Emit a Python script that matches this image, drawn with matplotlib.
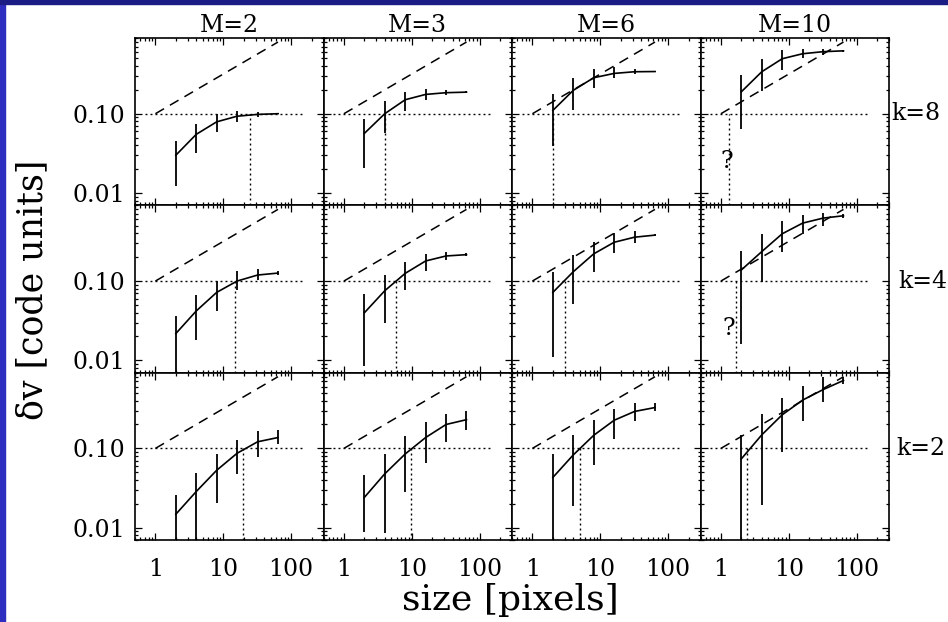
import matplotlib
matplotlib.use("Agg")
import matplotlib.pyplot as plt
from matplotlib.patches import Rectangle
from matplotlib.ticker import NullFormatter, LogLocator

plt.rcParams["font.family"] = ["DejaVu Serif", "DejaVu Sans"]

mach = ["M=2", "M=3", "M=6", "M=10"]
k_labels = ["k=8", "k=4", "k=2"]
sizes = [2, 4, 8, 16, 32, 64]

# reference slope-1/2 line and the 0.1 threshold line
ref_x = [1, 64]
ref_y = [0.1, 0.8]
thr_x = [0.7, 150]
thr_y = [0.1, 0.1]

# k=8 row: one list per Mach number (M=2, 3, 6, 10)
dv_k8 = [[0.030, 0.055, 0.079, 0.093, 0.098, 0.100],
         [0.0565, 0.100, 0.150, 0.175, 0.184, 0.187],
         [0.110, 0.197, 0.284, 0.322, 0.338, 0.340],
         [0.189, 0.338, 0.493, 0.570, 0.605, 0.620]]
lo_k8 = [[0.0122, 0.0316, 0.0587, 0.079, 0.092, 0.098],
         [0.0205, 0.0565, 0.108, 0.150, 0.171, 0.183],
         [0.0388, 0.110, 0.209, 0.279, 0.313, 0.333],
         [0.0647, 0.193, 0.359, 0.50, 0.55, 0.605]]
hi_k8 = [[0.045, 0.075, 0.100, 0.108, 0.106, 0.102],
         [0.087, 0.144, 0.189, 0.207, 0.199, 0.191],
         [0.175, 0.279, 0.362, 0.390, 0.365, 0.347],
         [0.307, 0.493, 0.628, 0.66, 0.65, 0.635]]
cross_k8 = [25, 4, 2, 1.32]

# k=4 row
dv_k4 = [[0.0218, 0.042, 0.072, 0.100, 0.119, 0.126],
         [0.0398, 0.0755, 0.125, 0.179, 0.207, 0.215],
         [0.072, 0.131, 0.220, 0.308, 0.357, 0.379],
         [0.138, 0.235, 0.394, 0.537, 0.621, 0.665]]
lo_k4 = [[0.005, 0.0183, 0.0425, 0.077, 0.103, 0.119],
         [0.0084, 0.030, 0.076, 0.135, 0.184, 0.205],
         [0.0109, 0.052, 0.130, 0.224, 0.300, 0.365],
         [0.0163, 0.096, 0.231, 0.39, 0.49, 0.62]]
hi_k4 = [[0.0364, 0.0665, 0.100, 0.132, 0.140, 0.132],
         [0.069, 0.119, 0.172, 0.220, 0.233, 0.226],
         [0.129, 0.213, 0.308, 0.409, 0.430, 0.393],
         [0.24, 0.394, 0.564, 0.68, 0.72, 0.71]]
cross_k4 = [15, 5.8, 3.0, 1.64]

# k=2 row
dv_k2 = [[0.0148, 0.0286, 0.053, 0.0868, 0.121, 0.137],
         [0.0241, 0.0478, 0.085, 0.137, 0.200, 0.230],
         [0.043, 0.0827, 0.146, 0.226, 0.292, 0.327],
         [0.0738, 0.148, 0.265, 0.406, 0.550, 0.718]]
lo_k2 = [[0.005, 0.005, 0.0206, 0.0469, 0.0774, 0.112],
         [0.0089, 0.0087, 0.0286, 0.0653, 0.119, 0.170],
         [0.005, 0.0187, 0.061, 0.133, 0.220, 0.298],
         [0.005, 0.0196, 0.089, 0.224, 0.387, 0.65]]
hi_k2 = [[0.026, 0.0496, 0.0843, 0.127, 0.165, 0.168],
         [0.046, 0.085, 0.143, 0.213, 0.273, 0.300],
         [0.085, 0.146, 0.230, 0.312, 0.370, 0.376],
         [0.146, 0.273, 0.426, 0.617, 0.79, 0.79]]
cross_k2 = [19.6, 9.7, 5.0, 2.4]

# "?" markers in the M=10 column (row index, x, y)
question = [(0, 1.21, 0.025), (1, 1.32, 0.025)]

rows = [(dv_k8, lo_k8, hi_k8, cross_k8),
        (dv_k4, lo_k4, hi_k4, cross_k4),
        (dv_k2, lo_k2, hi_k2, cross_k2)]
k_xoff = [1.01, 1.05, 1.037]

XLIM = (0.5, 300)
YLIM = (0.007, 0.9)

fig = plt.figure(figsize=(9.48, 6.22), dpi=100)
axes = fig.subplots(3, 4, sharex=True, sharey=True,
                    gridspec_kw=dict(wspace=0, hspace=0, left=135 / 948, right=889 / 948,
                                     top=1 - 38 / 622, bottom=1 - 540 / 622))

for r, (dv, lo, hi, cross) in enumerate(rows):
    for c in range(4):
        ax = axes[r, c]
        ax.set_xscale("log")
        ax.set_yscale("log")
        ax.plot(ref_x, ref_y, color="black", lw=1.1, dashes=(6.5, 4.5))
        ax.plot(thr_x, thr_y, color="black", lw=1.0, dashes=(1.4, 2.2))
        ax.plot([cross[c], cross[c]], [YLIM[0], 0.1], color="black", lw=1.0, dashes=(1.4, 2.2))
        yerr = [[v - l for v, l in zip(dv[c], lo[c])], [h - v for v, h in zip(dv[c], hi[c])]]
        ax.errorbar(sizes, dv[c], yerr=yerr, color="black", lw=1.2, elinewidth=1.3, capsize=0)
        ax.set_xlim(*XLIM)
        ax.set_ylim(*YLIM)
        ax.tick_params(which="both", direction="in", top=True, right=True,
                       labelsize=17, width=0.9)
        ax.tick_params(which="major", length=5)
        ax.tick_params(which="minor", length=2.5)
        ax.tick_params(axis="y", pad=7)
        ax.tick_params(axis="x", pad=13)
        ax.xaxis.set_minor_locator(LogLocator(subs=range(2, 10)))
        ax.yaxis.set_minor_locator(LogLocator(subs=range(2, 10)))
        ax.xaxis.set_minor_formatter(NullFormatter())
        ax.yaxis.set_minor_formatter(NullFormatter())
        for s in ax.spines.values():
            s.set_linewidth(1.2)
        if r == 0:
            ax.set_title(mach[c], fontsize=17, pad=4)
        if c == 3:
            ax.text(k_xoff[r], 0.1, k_labels[r], fontsize=17, va="center", ha="left",
                    transform=ax.get_yaxis_transform())

axes[0, 0].set_xticks([1, 10, 100], ["1", "10", "100"])
axes[0, 0].set_yticks([0.01, 0.1], ["0.01", "0.10"])
axes[0, 0].set_xlim(*XLIM)
axes[0, 0].set_ylim(*YLIM)

for r, qx, qy in question:
    axes[r, 3].text(qx, qy, "?", fontsize=17, ha="center", va="center")

fig.text(32 / 948, 1 - 290 / 622, "\u03b4v [code units]", rotation=90, fontsize=25,
         ha="center", va="center")
fig.text(510 / 948, 1 - 600 / 622, "size [pixels]", fontsize=26, ha="center", va="center")

# blue slide border
fig.patches.append(Rectangle((0, 0), 5 / 948, 1, transform=fig.transFigure,
                             color="#2d2dc0", zorder=-1))
fig.patches.append(Rectangle((0, 1 - 4 / 622), 1, 4 / 622, transform=fig.transFigure,
                             color="#1c1c85", zorder=-1))

fig.savefig("out.png", dpi=100)
